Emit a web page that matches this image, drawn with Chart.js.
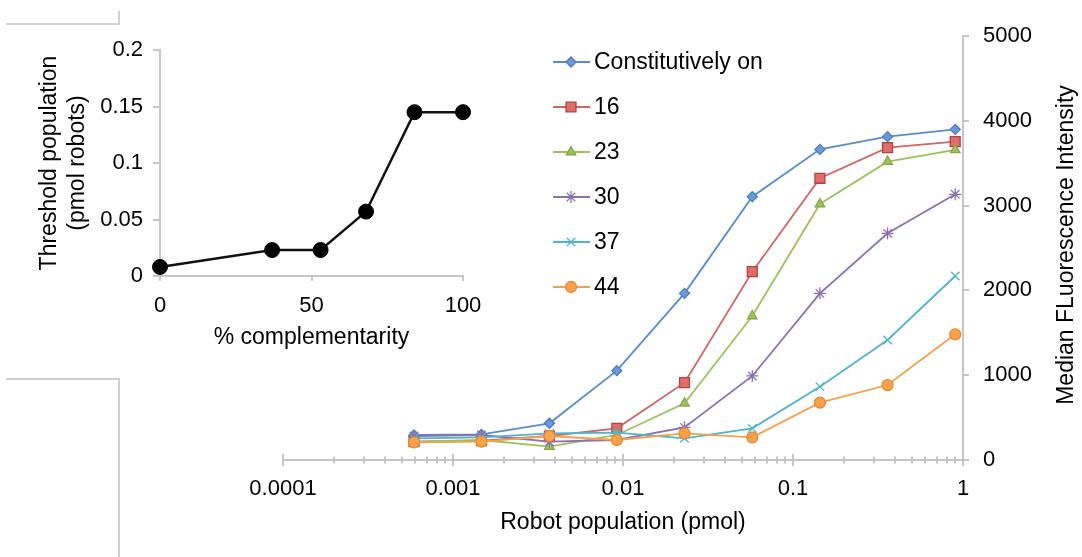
<!DOCTYPE html>
<html>
<head>
<meta charset="utf-8">
<title>Robot population vs fluorescence</title>
<script src="https://cdn.jsdelivr.net/npm/chart.js@4.4.1/dist/chart.umd.min.js"></script>
<style>
  html, body { margin: 0; padding: 0; background: #fff; }
  #wrap { position: relative; width: 1082px; height: 557px; overflow: hidden; }
  #mainChart, #insetChart { position: absolute; left: 0; top: 0; }
  #insetChart { pointer-events: none; }
  .frame { position: absolute; border: 0 solid #d0d0d0; }
</style>
</head>
<body>
<div id="wrap">
  <!-- leftover panel edges from the original figure -->
  <div class="frame" style="left:6px; top:11px; width:112px; height:12px; border-bottom-width:2px; border-right-width:2px;"></div>
  <div class="frame" style="left:6px; top:378px; width:112px; height:200px; border-top-width:2px; border-right-width:2px;"></div>
  <canvas id="mainChart" width="1082" height="557"></canvas>
  <canvas id="insetChart" width="500" height="360"></canvas>
</div>
<script>
// main panel: robot population (pmol), log axis
const robotPmol = [0.00059, 0.00147, 0.00369, 0.0092, 0.023, 0.0576, 0.144, 0.36, 0.9];
const seriesLabels = ["Constitutively on", "16", "23", "30", "37", "44"];
const constOn = [295, 303, 433, 1053, 1965, 3105, 3663, 3813, 3899];
const c16 = [216, 228, 283, 373, 912, 2221, 3322, 3683, 3754];
const c23 = [216, 236, 157, 295, 668, 1698, 3019, 3518, 3656];
const c30 = [283, 295, 216, 236, 385, 991, 1965, 2673, 3133];
const c37 = [256, 267, 314, 322, 256, 373, 865, 1415, 2170];
const c44 = [208, 216, 283, 236, 314, 267, 676, 884, 1482];
const yTicksMain = [0, 1000, 2000, 3000, 4000, 5000];

// inset panel: threshold vs % complementarity
const complementarity = [0, 37, 53, 68, 84, 100];
const threshold = [0.008, 0.023, 0.023, 0.057, 0.145, 0.145];

Chart.defaults.font.family = "'Liberation Sans', Arial, Helvetica, sans-serif";
Chart.defaults.font.size = 22;
Chart.defaults.color = "#000";

const axisGray = "#c6c6c6";
const titleFont = { size: 23 };

// look of each series (line, marker fill, marker edge, marker)
const looks = [
  { line: "#5a8ccc", fill: "#6d9ad6", edge: "#4a7bbd", style: "rectRot", r: 5 },
  { line: "#d06664", fill: "#de6e6c", edge: "#b3423f", style: "rect", r: 7 },
  { line: "#9cc25d", fill: "#9cc25d", edge: "#86a84a", style: "triangle", r: 5.5 },
  { line: "#8b72ad", fill: "#8b72ad", edge: "#8b72ad", style: "star", r: 6 },
  { line: "#4fb3cc", fill: "#4fb3cc", edge: "#4fb3cc", style: "crossRot", r: 6 },
  { line: "#f5a04f", fill: "#f8a24e", edge: "#e48a33", style: "circle", r: 5.5 }
];
const allSeries = [constOn, c16, c23, c30, c37, c44];

function isDecade(v) {
  const l = Math.log10(v);
  return Math.abs(l - Math.round(l)) < 1e-6;
}

// tick marks crossing the log axis (majors taller), skipping the 1.5 steps
const crossTicks = {
  id: "crossTicks",
  beforeDatasetsDraw(chart) {
    const sx = chart.scales.x;
    const ctx = chart.ctx;
    const y0 = sx.top;
    ctx.save();
    ctx.strokeStyle = axisGray;
    ctx.lineWidth = 2;
    sx.ticks.forEach(t => {
      const sig = t.value / Math.pow(10, Math.floor(Math.log10(t.value) + 1e-9));
      if (Math.abs(sig - Math.round(sig)) > 1e-6) return;
      const px = Math.round(sx.getPixelForValue(t.value));
      const h = isDecade(t.value) ? 6 : 3.5;
      ctx.beginPath();
      ctx.moveTo(px, y0 - h);
      ctx.lineTo(px, y0 + h);
      ctx.stroke();
    });
    ctx.restore();
  }
};

// right axis title reads bottom-to-top, plus the legend column
const extras = {
  id: "extras",
  afterDraw(chart) {
    const ctx = chart.ctx;
    const ca = chart.chartArea;
    ctx.save();
    ctx.fillStyle = "#000";
    ctx.font = "23px 'Liberation Sans', Arial, sans-serif";
    ctx.textAlign = "center";
    ctx.textBaseline = "middle";
    ctx.translate(chart.width - 15, (ca.top + ca.bottom) / 2 - 3);
    ctx.rotate(-Math.PI / 2);
    ctx.fillText("Median FLuorescence Intensity", 0, 0);
    ctx.restore();

    ctx.save();
    chart.data.datasets.forEach((ds, i) => {
      const y = 62 + i * 45;
      ctx.strokeStyle = ds.borderColor;
      ctx.lineWidth = 2;
      ctx.beginPath();
      ctx.moveTo(553, y);
      ctx.lineTo(590, y);
      ctx.stroke();
      ctx.fillStyle = ds.pointBackgroundColor;
      ctx.strokeStyle = ds.pointBorderColor;
      ctx.lineWidth = ds.pointBorderWidth;
      Chart.helpers.drawPoint(ctx, { pointStyle: ds.pointStyle, radius: ds.pointRadius, borderWidth: ds.pointBorderWidth, rotation: 0 }, 571, y);
      ctx.fillStyle = "#000";
      ctx.font = "23px 'Liberation Sans', Arial, sans-serif";
      ctx.textAlign = "left";
      ctx.textBaseline = "middle";
      ctx.fillText(ds.label, 594, y + 1);
    });
    ctx.restore();
  }
};

new Chart(document.getElementById("mainChart"), {
  type: "line",
  data: {
    datasets: allSeries.map((vals, i) => ({
      label: seriesLabels[i],
      data: robotPmol.map((x, k) => ({ x: x, y: vals[k] })),
      borderColor: looks[i].line,
      borderWidth: 1.8,
      pointStyle: looks[i].style,
      pointRadius: looks[i].r,
      pointBackgroundColor: looks[i].fill,
      pointBorderColor: looks[i].edge,
      pointBorderWidth: 1.3,
      tension: 0,
      fill: false,
      clip: false,
      order: allSeries.length - i
    }))
  },
  options: {
    responsive: false,
    animation: false,
    layout: { padding: { left: 283, top: 36, right: 0, bottom: 0 } },
    plugins: { legend: { display: false }, tooltip: { enabled: false } },
    scales: {
      x: {
        type: "logarithmic",
        position: "bottom",
        min: 0.0001,
        max: 1,
        grid: { display: false, drawTicks: false },
        border: { display: true, color: axisGray, width: 2 },
        ticks: {
          autoSkip: false,
          maxRotation: 0,
          minRotation: 0,
          padding: 16,
          callback: v => isDecade(v) ? String(Number(v.toPrecision(6))) : ""
        },
        title: { display: true, text: "Robot population (pmol)", font: titleFont, padding: { top: 0, bottom: 21 } },
        afterFit(s) { s.height = 97; }
      },
      y: {
        type: "linear",
        position: "right",
        min: yTicksMain[0],
        max: yTicksMain[yTicksMain.length - 1],
        ticks: { stepSize: 1000, padding: 14, callback: v => String(v) },
        grid: { drawOnChartArea: false, tickLength: 6, color: axisGray, lineWidth: 2 },
        border: { color: axisGray, width: 2 },
        afterFit(s) { s.width = 119; }
      }
    }
  },
  plugins: [crossTicks, extras]
});

new Chart(document.getElementById("insetChart"), {
  type: "line",
  data: {
    datasets: [{
      label: "Threshold population",
      data: complementarity.map((x, k) => ({ x: x, y: threshold[k] })),
      borderColor: "#111",
      borderWidth: 2.5,
      pointRadius: 7.5,
      pointBackgroundColor: "#000",
      pointBorderColor: "#000",
      pointBorderWidth: 1,
      tension: 0,
      clip: false
    }]
  },
  options: {
    responsive: false,
    animation: false,
    layout: { padding: { left: 0, top: 50, right: 37, bottom: 0 } },
    plugins: { legend: { display: false }, tooltip: { enabled: false } },
    scales: {
      x: {
        type: "linear",
        min: 0,
        max: 100,
        ticks: { stepSize: 50, padding: 12, maxRotation: 0, callback: v => String(v) },
        grid: { drawOnChartArea: false, tickLength: 5, color: axisGray, lineWidth: 2 },
        border: { color: axisGray, width: 2 },
        title: { display: true, text: "% complementarity", font: titleFont, padding: { top: 0, bottom: 9 } },
        afterFit(s) { s.height = 84; }
      },
      y: {
        type: "linear",
        min: 0,
        max: 0.2,
        ticks: { stepSize: 0.05, padding: 10, callback: v => String(Number(v.toFixed(3))) },
        grid: { drawOnChartArea: false, tickLength: 7, color: axisGray, lineWidth: 2 },
        border: { color: axisGray, width: 2 },
        title: { display: true, text: ["Threshold population", "(pmol robots)"], font: titleFont, padding: { top: 36, bottom: 0 } },
        afterFit(s) { s.width = 160; }
      }
    }
  }
});
</script>
</body>
</html>
